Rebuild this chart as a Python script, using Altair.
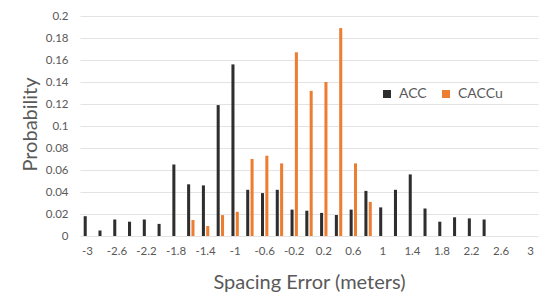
import altair as alt
import pandas as pd

categories = ["-3", "-2.8", "-2.6", "-2.4", "-2.2", "-2", "-1.8", "-1.6", "-1.4", "-1.2",
              "-1", "-0.8", "-0.6", "-0.4", "-0.2", "0", "0.2", "0.4", "0.6", "0.8",
              "1", "1.2", "1.4", "1.6", "1.8", "2", "2.2", "2.4", "2.6", "2.8", "3"]
acc = [0.018, 0.005, 0.015, 0.013, 0.015, 0.011, 0.065, 0.047, 0.046, 0.119,
       0.156, 0.042, 0.039, 0.042, 0.024, 0.023, 0.021, 0.019, 0.024, 0.041,
       0.026, 0.042, 0.056, 0.025, 0.013, 0.017, 0.016, 0.015, 0, 0, 0]
caccu = [0, 0, 0, 0, 0, 0, 0, 0.0145, 0.009, 0.019,
         0.022, 0.070, 0.073, 0.066, 0.167, 0.132, 0.140, 0.189, 0.066, 0.031,
         0, 0, 0, 0, 0, 0, 0, 0, 0, 0, 0]
series = ["ACC", "CACCu"]
colors = ["#2e2e2e", "#ED7D31"]
x_labels = ["-3", "-2.6", "-2.2", "-1.8", "-1.4", "-1", "-0.6", "-0.2",
            "0.2", "0.6", "1", "1.4", "1.8", "2.2", "2.6", "3"]
y_ticks = [0, 0.02, 0.04, 0.06, 0.08, 0.1, 0.12, 0.14, 0.16, 0.18, 0.2]

rows = []
for c, a, b in zip(categories, acc, caccu):
    rows.append({"cat": c, "series": "ACC", "p": a})
    rows.append({"cat": c, "series": "CACCu", "p": b})
df = pd.DataFrame(rows)

FONT = "Lato"
GRAY = "#595959"

chart = alt.Chart(df).mark_bar().encode(
    x=alt.X("cat:N", sort=categories,
            scale=alt.Scale(paddingInner=0.5, paddingOuter=0.25),
            axis=alt.Axis(values=x_labels, labelAngle=0, ticks=False, domain=False,
                          grid=False, labelPadding=9, labelFontSize=11.5,
                          labelColor=GRAY, labelFont=FONT,
                          title="Spacing Error (meters)", titleFont=FONT,
                          titleFontSize=20, titleColor=GRAY, titleFontWeight="normal",
                          titleY=46, titleBaseline="middle")),
    xOffset=alt.XOffset("series:N", sort=series, scale=alt.Scale(paddingInner=0.3)),
    y=alt.Y("p:Q", scale=alt.Scale(domain=[0, 0.2], nice=False),
            axis=alt.Axis(values=y_ticks, format=".2~f", ticks=False, domain=False,
                          grid=True, gridColor="#e3e3e3", gridWidth=1,
                          labelPadding=12, labelFontSize=11.5, labelColor=GRAY,
                          labelFont=FONT,
                          title="Probability", titleFont=FONT, titleFontSize=20,
                          titleColor=GRAY, titleFontWeight="normal",
                          titleAngle=-90, titleX=-50, titleY=108,
                          titleAlign="center", titleBaseline="middle")),
    color=alt.Color("series:N", sort=series,
                    scale=alt.Scale(domain=series, range=colors),
                    legend=alt.Legend(title=None, orient="none", direction="horizontal",
                                      legendX=300, legendY=71, symbolType="square",
                                      symbolSize=64, symbolStrokeWidth=0,
                                      labelFont=FONT, labelFontSize=14,
                                      labelColor=GRAY, columnPadding=12,
                                      labelOffset=5)),
).properties(
    width=458, height=220,
    autosize=alt.AutoSizeParams(type="none"),
    padding={"left": 72, "top": 8, "right": 4, "bottom": 60},
    background="white",
).configure_view(stroke=None)

chart.save("out.html", embed_options={"renderer": "svg", "actions": False})
